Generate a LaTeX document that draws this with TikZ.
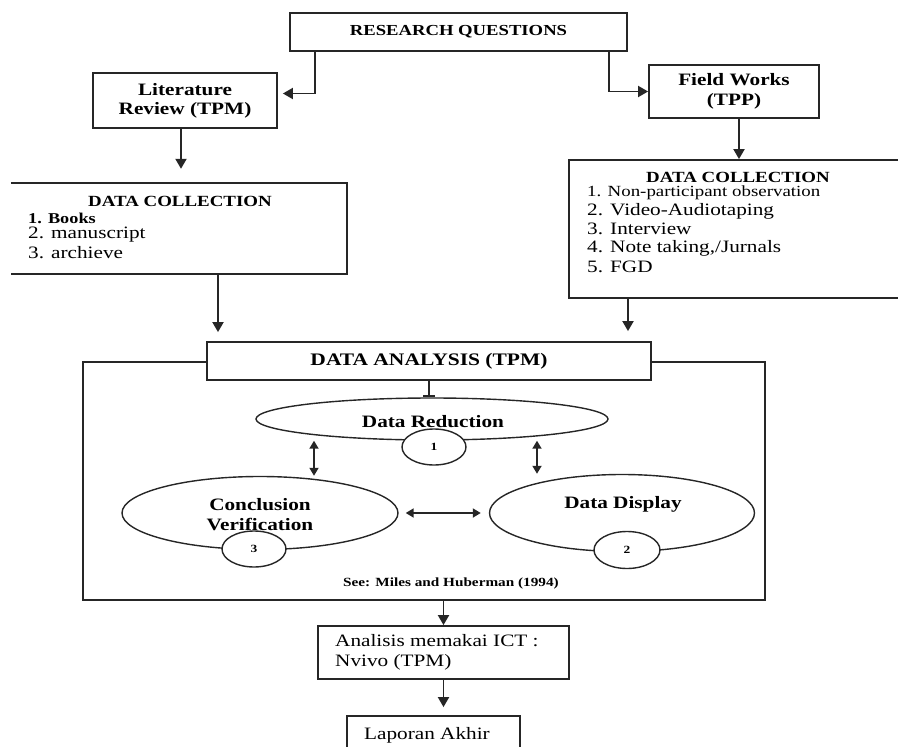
\documentclass[tikz,border=0pt]{standalone}
\usepackage{fontspec}
\setmainfont{Liberation Serif}[FakeStretch=1.22]
\usetikzlibrary{arrows.meta,shapes.geometric,calc}
\begin{document}
\begin{tikzpicture}[x=1pt,y=-1pt,
  box/.style={draw=black!85,line width=1.8pt,rectangle,inner sep=0pt},
  oval/.style={draw=black!85,line width=1.4pt,ellipse,inner sep=0pt},
  num/.style={oval,fill=white,font=\fontsize{11}{12}\selectfont\bfseries},
  arr/.style={-{Triangle[length=10pt,width=11pt]},line width=1.9pt,draw=black!85},
  darr/.style={{Triangle[length=8pt,width=9pt]}-{Triangle[length=8pt,width=9pt]},line width=1.8pt,draw=black!85},
  bt/.style={font=\fontsize{17.4}{20}\selectfont\bfseries},
  rt/.style={font=\fontsize{17.4}{20}\selectfont},
  ht/.style={font=\fontsize{15.5}{18}\selectfont\bfseries},
  lt/.style={anchor=west,inner sep=0pt},
]
\useasboundingbox (0,0) rectangle (898,747);
\clip (0,0) rectangle (898,747);

% top boxes
\node[box,minimum width=337pt,minimum height=38pt,font=\fontsize{15.3}{18}\selectfont\bfseries] (rq) at (458.5,32) {RESEARCH QUESTIONS};
\node[box,minimum width=184pt,minimum height=55pt,align=center,font=\fontsize{17.4}{19}\selectfont\bfseries] (lit) at (185,100.5) {Literature\\Review (TPM)};
\node[box,minimum width=170pt,minimum height=53pt,align=center,font=\fontsize{17.4}{20}\selectfont\bfseries] (field) at (734,91.5) {Field Works\\(TPP)};

% left data collection
\node[minimum width=336pt,minimum height=91pt,inner sep=0pt] (dcl) at (179,228.5) {};
\draw[draw=black!85,line width=1.8pt] (dcl.north west) -- (dcl.north east) -- (dcl.south east) -- (dcl.south west);
\node[ht] (dclh) at (180,201) {DATA COLLECTION};
\node[lt,font=\fontsize{15}{18}\selectfont\bfseries] (dcl1) at (28,218) {1. Books};
\node[lt,rt] (dcl2) at (28,235) {2. manuscript};
\node[lt,rt] (dcl3) at (28,253) {3. archieve};

% right data collection
\node[box,minimum width=338pt,minimum height=138pt] (dcr) at (738,229) {};
\node[ht] (dcrh) at (738,177) {DATA COLLECTION};
\node[lt,font=\fontsize{15.5}{18}\selectfont] (dcr1) at (587,193) {1. Non-participant observation};
\node[lt,rt] (dcr2) at (587,211) {2. Video-Audiotaping};
\node[lt,rt] (dcr3) at (587,229) {3. Interview};
\node[lt,rt] (dcr4) at (587,248) {4. Note taking,/Jurnals};
\node[lt,rt] (dcr5) at (587,267) {5. FGD};

% data analysis
\node[draw=black!85,line width=1.5pt,rectangle,minimum width=682pt,minimum height=238pt,inner sep=0pt] (outer) at (424,481) {};
\node[box,fill=white,minimum width=444pt,minimum height=38pt,font=\fontsize{17.6}{20}\selectfont\bfseries] (da) at (429,361) {DATA ANALYSIS (TPM)};

\node[oval,minimum width=352pt,minimum height=42pt] (dr) at (432,419) {};
\node[bt] (drt) at (433,422) {Data Reduction};
\node[num,minimum width=64pt,minimum height=36pt] (n1) at (434,447) {1};

\node[oval,minimum width=276pt,minimum height=73pt] (cv) at (260,513) {};
\node[bt,align=center] (cvt) at (260,515) {Conclusion\\Verification};
\node[num,minimum width=64pt,minimum height=36pt] (n3) at (254,549) {3};

\node[oval,minimum width=265pt,minimum height=77pt] (dd) at (622,513) {};
\node[bt] (ddt) at (623,504) {Data Display};
\node[num,minimum width=66pt,minimum height=37pt] (n2) at (627,550) {2};

\node[font=\fontsize{12.5}{14}\selectfont\bfseries] (see) at (451,583) {See: Miles and Huberman (1994)};

% bottom
\node[box,minimum width=251pt,minimum height=53pt] (an) at (443.5,652.5) {};
\node[lt,rt,align=left] (ant) at (335,652) {Analisis memakai ICT :\\Nvivo (TPM)};
\node[box,minimum width=173pt,minimum height=48pt] (lap) at (433.5,740) {};
\node[rt] (lapt) at (427,735) {Laporan Akhir};

% connectors
\draw[arr,shorten >=5pt] ([xshift=-143.5pt]rq.south) |- ([yshift=7pt]lit.east);
\draw[arr] ([xshift=150.5pt]rq.south) |- (field.west);
\draw[arr,shorten >=14pt] ([xshift=-4pt]lit.south) -- ([xshift=-4pt]lit.south |- dcl.north);
\draw[arr] ([xshift=5pt]field.south) -- ([xshift=5pt]field.south |- dcr.north);
\draw[arr,shorten >=9pt] ([xshift=39pt]dcl.south) -- ([xshift=39pt]dcl.south |- da.north);
\draw[arr,shorten >=10pt] ([xshift=-110pt]dcr.south) -- ([xshift=-110pt]dcr.south |- da.north);
\draw[line width=1.8pt,draw=black!85,-{Bar[width=12pt,line width=2.5pt]}] (da.south) -- (da.south |- dr.north);
\draw[darr] ([xshift=-118pt]dr.south) -- ([xshift=-118pt]dr.south |- cv.north);
\draw[darr] ([xshift=105pt]dr.south) -- ([xshift=105pt]dr.south |- dd.north);
\draw[darr,shorten <=7pt,shorten >=8pt] (cv.east) -- (dd.west);
\draw[arr] (an.north |- outer.south) -- (an.north);
\draw[arr,shorten >=8pt] (an.south) -- (an.south |- lap.north);
\end{tikzpicture}
\end{document}
